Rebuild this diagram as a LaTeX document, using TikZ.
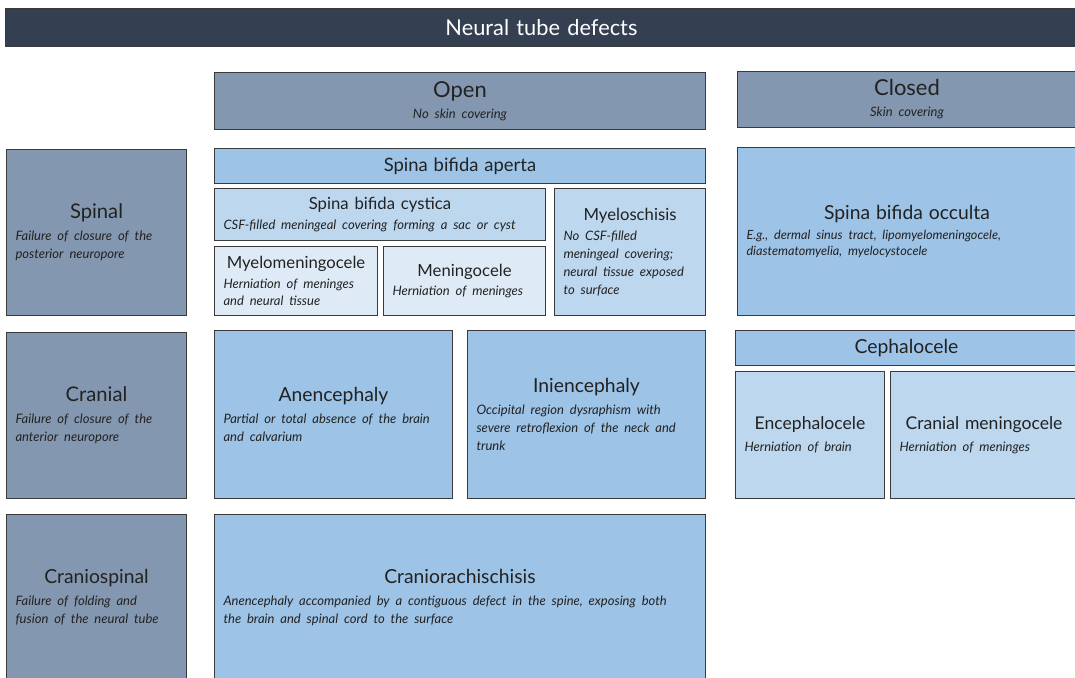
\documentclass[tikz,border=0pt]{standalone}
\usepackage{fontspec}
\setmainfont{Lato}
\usetikzlibrary{positioning}

\definecolor{ntdDark}{HTML}{344052}
\definecolor{ntdHead}{HTML}{8497B0}
\definecolor{ntdMid}{HTML}{9DC3E6}
\definecolor{ntdLight}{HTML}{BDD7EE}
\definecolor{ntdPale}{HTML}{DEEBF7}
\definecolor{ntdLine}{HTML}{3A3A3A}
\definecolor{ntdText}{HTML}{222222}

\newcommand{\boxhead}[2][11]{{\centering\fontsize{#1}{13}\selectfont #2\par}\vskip 2.4pt}
\newcommand{\boxsub}[1]{{\centering\fontsize{9.5}{11}\selectfont #1\par}\vskip 1pt}
\newcommand{\boxdesc}[1]{{\itshape\fontsize{7.4}{10.2}\selectfont #1\par}}

\begin{document}
\begin{tikzpicture}[
    x=0.02cm, y=-0.02cm,
    cell/.style={draw=ntdLine, line width=0.6pt, anchor=north west, inner xsep=0.18cm,
        inner ysep=0pt, align=left, text=ntdText},
    head/.style={cell, fill=ntdHead},
    mid/.style={cell, fill=ntdMid},
    light/.style={cell, fill=ntdLight},
    pale/.style={cell, fill=ntdPale}
]
    \fill[white] (0,0) rectangle (1075,677);
    \useasboundingbox (0,0) rectangle (1075,677);
    \clip (0,0) rectangle (1075,677);

    \node[cell, fill=ntdDark, text=white, align=center, text width=21.08cm, minimum height=0.76cm,
        font=\fontsize{12.4}{14}\selectfont] (ntd) at (5,8) {Neural tube defects};

    \node[head, align=center, text width=9.46cm, minimum height=1.14cm] (open) at (214,72)
        {{\fontsize{12.5}{14}\selectfont Open\par}\vskip 2pt{\itshape\fontsize{7.4}{10}\selectfont No skin covering\par}};
    \node[head, align=center, text width=6.42cm, minimum height=1.12cm] (closed) at (737,71)
        {{\fontsize{12.5}{14}\selectfont Closed\par}\vskip 2pt{\itshape\fontsize{7.4}{10}\selectfont Skin covering\par}};

    \node[head, text width=3.24cm, minimum height=3.32cm] (spinal) at (6,149)
        {\boxhead[11.5]{Spinal}\boxdesc{Failure of closure of the\\posterior neuropore}};
    \node[mid, align=center, text width=9.46cm, minimum height=0.70cm] (aperta) at (214,148)
        {\fontsize{10.5}{12}\selectfont Spina bifida aperta};
    \node[light, text width=6.26cm, minimum height=1.04cm] (cystica) at (214,188)
        {\boxsub{Spina bifida cystica}\boxdesc{CSF-filled meningeal covering forming a sac or cyst}};
    \node[pale, text width=2.90cm, minimum height=1.38cm] (mmc) at (214,246)
        {\boxsub{Myelomeningocele}\boxdesc{Herniation of meninges\\and neural tissue}};
    \node[pale, text width=2.88cm, minimum height=1.38cm] (mc) at (383,246)
        {\boxsub{Meningocele}\boxdesc{Herniation of meninges}};
    \node[light, text width=2.66cm, minimum height=2.54cm] (myelo) at (554,188)
        {\boxsub{Myeloschisis}\boxdesc{No CSF-filled\\meningeal covering;\\neural tissue exposed\\to surface}};
    \node[mid, text width=6.42cm, minimum height=3.36cm] (occulta) at (737,147)
        {\boxhead{Spina bifida occulta}{\itshape\fontsize{7.2}{9.2}\selectfont E.g., dermal sinus tract, lipomyelomeningocele,\\diastematomyelia, myelocystocele\par}};

    \node[head, text width=3.24cm, minimum height=3.32cm] (cranial) at (6,332)
        {\boxhead[11.5]{Cranial}\boxdesc{Failure of closure of the\\anterior neuropore}};
    \node[mid, text width=4.40cm, minimum height=3.36cm] (anen) at (214,330)
        {\boxhead{Anencephaly}\boxdesc{Partial or total absence of the brain\\and calvarium}};
    \node[mid, text width=4.40cm, minimum height=3.36cm] (inien) at (467,330)
        {\boxhead{Iniencephaly}\boxdesc{Occipital region dysraphism with\\severe retroflexion of the neck and\\trunk}};
    \node[mid, align=center, text width=6.48cm, minimum height=0.70cm] (cephalo) at (735,330)
        {\fontsize{11}{12}\selectfont Cephalocele};
    \node[light, text width=2.62cm, minimum height=2.54cm] (enceph) at (735,371)
        {\boxhead[10]{Encephalocele}\boxdesc{Herniation of brain}};
    \node[light, text width=3.38cm, minimum height=2.54cm] (cmc) at (890,371)
        {\boxhead[10]{Cranial meningocele}\boxdesc{Herniation of meninges}};

    \node[head, text width=3.24cm, minimum height=3.32cm] (cspinal) at (6,514)
        {\boxhead{Craniospinal}\boxdesc{Failure of folding and\\fusion of the neural tube}};
    \node[mid, text width=9.46cm, minimum height=3.32cm] (crach) at (214,514)
        {\boxhead{Craniorachischisis}\boxdesc{Anencephaly accompanied by a contiguous defect in the spine, exposing both\\the brain and spinal cord to the surface}};
\end{tikzpicture}
\end{document}
